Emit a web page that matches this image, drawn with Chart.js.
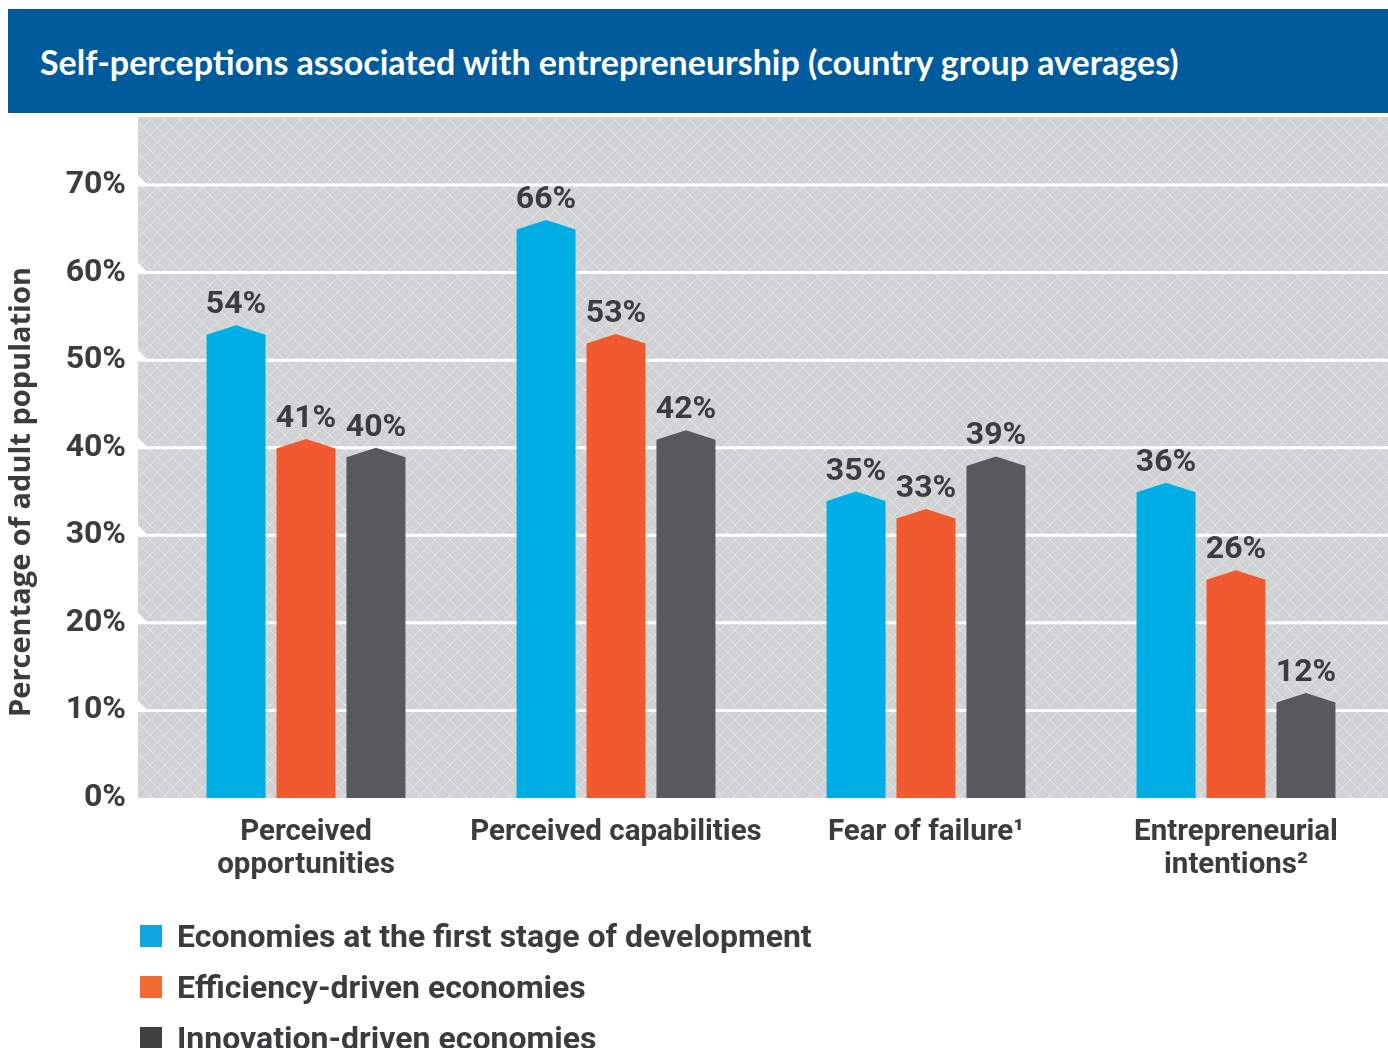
<!DOCTYPE html>
<html>
<head>
    <title>Self-perceptions associated with entrepreneurship</title>
    <script src="https://cdn.jsdelivr.net/npm/chart.js"></script>
    <style>
        body { margin: 0; width: 1388px; height: 1048px; overflow: hidden; background: #fff; position: relative; }
        #title {
            position: absolute; left: 8px; top: 9px; width: 1380px; height: 104px;
            background: #005b9c; color: #fff; display: flex; align-items: center;
            font: bold 34px Lato, sans-serif; padding-left: 32px; box-sizing: border-box;
        }
        #wrap { position: absolute; left: 0; top: 0; width: 1392px; height: 1048px; }
        #legend { position: absolute; left: 140px; top: 910px; }
        .item { display: flex; align-items: center; height: 51px; font: bold 32px Roboto, sans-serif; color: #3c3c3e; }
        .box { width: 22px; height: 22px; margin-right: 15px; }
    </style>
</head>
<body>
    <div id="title">Self-perceptions associated with entrepreneurship (country group averages)</div>
    <div id="wrap"><canvas id="myChart" width="1392" height="1048"></canvas></div>
    <div id="legend"></div>
    <script>
        const categories = [['Perceived', 'opportunities'], 'Perceived capabilities', 'Fear of failure\u00b9', ['Entrepreneurial', 'intentions\u00b2']];
        const seriesNames = ['Economies at the first stage of development', 'Efficiency-driven economies', 'Innovation-driven economies'];
        const firstStage = [54, 66, 35, 36];
        const efficiencyDriven = [41, 53, 33, 26];
        const innovationDriven = [40, 42, 39, 12];
        const colors = ['#00aee6', '#f15a2e', '#58595b'];
        const legendColors = ['#11a6e0', '#f26b33', '#414142'];
        const tickValues = [0, 10, 20, 30, 40, 50, 60, 70];

        const textColor = '#3c3c3e';

        // crosshatch tile for the plot background
        const tile = document.createElement('canvas');
        tile.width = 15; tile.height = 15;
        const tctx = tile.getContext('2d');
        tctx.fillStyle = '#d1d2d4';
        tctx.fillRect(0, 0, 15, 15);
        tctx.strokeStyle = 'rgba(255,255,255,0.4)';
        tctx.lineWidth = 1;
        tctx.beginPath();
        tctx.moveTo(0, 0); tctx.lineTo(15, 15);
        tctx.moveTo(15, 0); tctx.lineTo(0, 15);
        tctx.stroke();

        const backdrop = {
            id: 'backdrop',
            beforeDatasetsDraw(chart) {
                const ctx = chart.ctx, area = chart.chartArea, y = chart.scales.y;
                ctx.save();
                ctx.fillStyle = ctx.createPattern(tile, 'repeat');
                ctx.fillRect(138, area.top, 1250, area.bottom - area.top);
                ctx.strokeStyle = '#fff';
                ctx.fillStyle = '#fff';
                ctx.lineWidth = 3;
                tickValues.slice(1).forEach(v => {
                    const py = y.getPixelForValue(v);
                    ctx.beginPath();
                    ctx.moveTo(138, py); ctx.lineTo(1388, py);
                    ctx.stroke();
                    ctx.beginPath();
                    ctx.moveTo(138, py - 10); ctx.lineTo(148, py); ctx.lineTo(138, py);
                    ctx.closePath(); ctx.fill();
                });
                // y axis title
                ctx.translate(22, 492);
                ctx.rotate(-Math.PI / 2);
                ctx.font = 'bold 29px "Open Sans", sans-serif';
                ctx.fillStyle = textColor;
                ctx.textAlign = 'center';
                ctx.textBaseline = 'middle';
                ctx.fillText('Percentage of adult population', 0, 0);
                ctx.restore();
            },
            beforeDatasetDraw(chart, args) {
                const ctx = chart.ctx;
                ctx.save();
                ctx.fillStyle = colors[args.index];
                args.meta.data.forEach(el => {
                    const p = el.getProps(['x', 'y', 'base', 'width'], true);
                    const h = p.width / 2, roof = 9.5;
                    ctx.beginPath();
                    ctx.moveTo(p.x - h, p.base);
                    ctx.lineTo(p.x - h, p.y + roof);
                    ctx.lineTo(p.x, p.y);
                    ctx.lineTo(p.x + h, p.y + roof);
                    ctx.lineTo(p.x + h, p.base);
                    ctx.closePath();
                    ctx.fill();
                });
                ctx.restore();
                return false;
            },
            afterDatasetsDraw(chart) {
                const ctx = chart.ctx;
                ctx.save();
                ctx.font = 'bold 32px Roboto, sans-serif';
                ctx.fillStyle = textColor;
                ctx.textAlign = 'center';
                ctx.textBaseline = 'alphabetic';
                chart.data.datasets.forEach((ds, i) => {
                    chart.getDatasetMeta(i).data.forEach((el, j) => {
                        ctx.fillText(ds.data[j] + '%', el.x, el.y - 12);
                    });
                });
                ctx.restore();
            }
        };

        const ctx = document.getElementById('myChart').getContext('2d');
        const myChart = new Chart(ctx, {
            type: 'bar',
            data: {
                labels: categories,
                datasets: [firstStage, efficiencyDriven, innovationDriven].map((d, i) => ({
                    label: seriesNames[i],
                    data: d,
                    backgroundColor: colors[i],
                    categoryPercentage: 0.677,
                    barPercentage: 0.843
                }))
            },
            options: {
                responsive: false,
                animation: false,
                layout: { padding: { top: 117, left: 0, right: 1, bottom: 160 } },
                plugins: { legend: { display: false }, tooltip: { enabled: false } },
                scales: {
                    x: {
                        grid: { display: false, drawTicks: false },
                        border: { display: false },
                        ticks: {
                            color: textColor,
                            font: { family: 'Roboto', weight: 'bold', size: 29.5, lineHeight: 1.09 },
                            padding: 19,
                            maxRotation: 0
                        },
                        afterFit(scale) { scale.height = 90; }
                    },
                    y: {
                        min: 0,
                        max: 77.77,
                        grid: { display: false, drawTicks: false },
                        border: { display: false },
                        ticks: {
                            stepSize: 10,
                            includeBounds: false,
                            color: textColor,
                            padding: 25,
                            font: { family: 'Roboto', weight: 'bold', size: 32 },
                            callback: v => tickValues.includes(v) ? v + '%' : ''
                        },
                        afterFit(scale) { scale.width = 151; }
                    }
                }
            },
            plugins: [backdrop]
        });

        const legend = document.getElementById('legend');
        seriesNames.forEach((name, i) => {
            const row = document.createElement('div');
            row.className = 'item';
            row.innerHTML = '<span class="box" style="background:' + legendColors[i] + '"></span>' + name;
            legend.appendChild(row);
        });
    </script>
</body>
</html>
